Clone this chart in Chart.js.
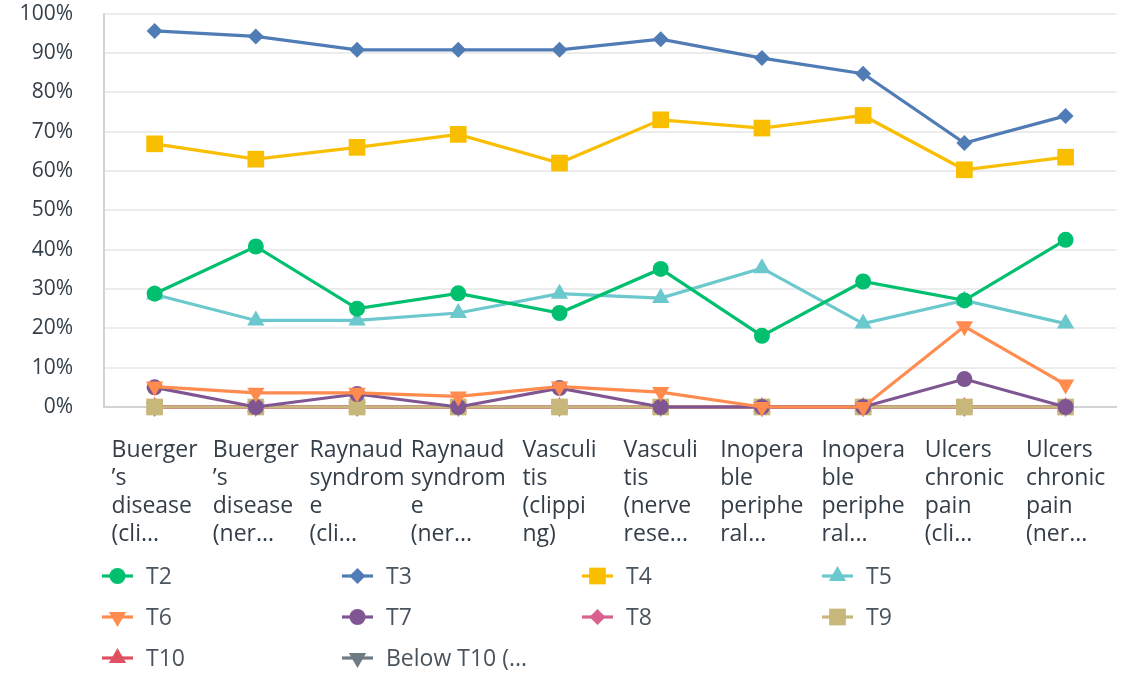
<!DOCTYPE html>
<html>
<head>
<meta charset="utf-8">
<script src="https://cdn.jsdelivr.net/npm/chart.js@4.4.0/dist/chart.umd.min.js"></script>
<style>
  html, body { margin: 0; padding: 0; background: #fff; }
  #wrap { width: 1128px; height: 673px; position: relative; }
</style>
</head>
<body>
<div id="wrap"><canvas id="chart"></canvas></div>
<script>
// categories (already wrapped the way the survey tool cut them)
const categories = [
  ["Buerger", "’s", "disease", "(cli..."],
  ["Buerger", "’s", "disease", "(ner..."],
  ["Raynaud", "syndrom", "e", "(cli..."],
  ["Raynaud", "syndrom", "e", "(ner..."],
  ["Vasculi", "tis", "(clippi", "ng)"],
  ["Vasculi", "tis", "(nerve", "rese..."],
  ["Inopera", "ble", "periphe", "ral..."],
  ["Inopera", "ble", "periphe", "ral..."],
  ["Ulcers", "chronic", "pain", "(cli..."],
  ["Ulcers", "chronic", "pain", "(ner..."]
];

// series values, in percent
const t2 = [28.8, 40.8, 25.0, 28.9, 23.9, 35.1, 18.1, 31.9, 27.1, 42.5];
const t3 = [95.6, 94.2, 90.8, 90.8, 90.8, 93.5, 88.7, 84.7, 67.1, 74.0];
const t4 = [66.9, 63.0, 66.0, 69.3, 62.0, 73.0, 70.9, 74.1, 60.3, 63.5];
const t5 = [28.6, 22.0, 22.0, 23.9, 28.8, 27.7, 35.3, 21.2, 27.1, 21.2];
const t6 = [5.2, 3.6, 3.6, 2.7, 5.2, 3.8, 0, 0, 20.5, 5.7];
const t7 = [5.0, 0, 3.3, 0, 4.8, 0, 0, 0, 7.1, 0];
const t8 = [0, 0, 0, 0, 0, 0, 0, 0, 0, 0];
const t9 = [0, 0, 0, 0, 0, 0, 0, 0, 0, 0];
const t10 = [0, 0, 0, 0, 0, 0, 0, 0, 0, 0];
const belowT10 = [0, 0, 0, 0, 0, 0, 0, 0, 0, 0];

const seriesNames = ["T2", "T3", "T4", "T5", "T6", "T7", "T8", "T9", "T10", "Below T10 (..."];
const seriesData = [t2, t3, t4, t5, t6, t7, t8, t9, t10, belowT10];

// y tick values
const yTicks = [0, 10, 20, 30, 40, 50, 60, 70, 80, 90, 100];

const colors = ['#00bf6f', '#507cb6', '#f9be00', '#6bc8cd', '#ff8b4f', '#7f5691', '#d9608f', '#c8b77a', '#e05060', '#6f7b83'];
const styles = ['circle', 'rectRot', 'rect', 'triangle', 'triangle', 'circle', 'rectRot', 'rect', 'triangle', 'triangle'];
const rotations = [0, 0, 0, 0, 180, 0, 0, 0, 0, 180];
// T8, T10 and Below T10 sit underneath T9 in the picture
const drawOrder = [0, 0, 0, 0, 0, 0, 1, 0, 1, 1];
const radii = { circle: 8, rectRot: 8, rect: 11.8, triangle: 10 };

const textColor = '#333e48';
const fontFamily = '"Open Sans", "Noto Sans", sans-serif';

const datasets = seriesData.map((vals, i) => ({
  label: seriesNames[i],
  data: vals,
  order: drawOrder[i],
  clip: false,
  borderColor: colors[i],
  backgroundColor: colors[i],
  borderWidth: 3.2,
  pointStyle: styles[i],
  pointRotation: rotations[i],
  pointRadius: radii[styles[i]],
  pointHoverRadius: radii[styles[i]],
  pointBorderWidth: 0,
  tension: 0
}));

// x labels: left aligned block centred under each tick
const xLabelPlugin = {
  id: 'xLabels',
  afterDraw(chart) {
    const ctx = chart.ctx;
    const xs = chart.scales.x;
    ctx.save();
    ctx.font = '23px ' + fontFamily;
    ctx.fillStyle = textColor;
    ctx.textAlign = 'left';
    ctx.textBaseline = 'alphabetic';
    categories.forEach((lines, i) => {
      const w = Math.max(...lines.map(l => ctx.measureText(l).width));
      const x0 = xs.getPixelForTick(i) - w / 2;
      lines.forEach((l, k) => ctx.fillText(l, x0, xs.top + 50 + k * 28));
    });
    ctx.restore();
  }
};

// legend in four columns under the labels
const legendPlugin = {
  id: 'gridLegend',
  afterDraw(chart) {
    const ctx = chart.ctx;
    const colX = [102, 342, 582, 822];
    const rowY = [576, 617, 658];
    ctx.save();
    ctx.font = '23px ' + fontFamily;
    ctx.textBaseline = 'middle';
    ctx.textAlign = 'left';
    chart.data.datasets.forEach((ds, i) => {
      const x = colX[i % 4], y = rowY[Math.floor(i / 4)];
      ctx.strokeStyle = ds.borderColor;
      ctx.lineWidth = 3.2;
      ctx.beginPath();
      ctx.moveTo(x, y);
      ctx.lineTo(x + 31, y);
      ctx.stroke();
      ctx.fillStyle = ds.backgroundColor;
      Chart.helpers.drawPoint(ctx, {
        pointStyle: ds.pointStyle,
        rotation: ds.pointRotation,
        radius: ds.pointRadius,
        borderWidth: 0
      }, x + 15.5, y);
      ctx.fillStyle = '#4a545c';
      ctx.fillText(ds.label, x + 44, y + 1);
    });
    ctx.restore();
  }
};

new Chart(document.getElementById('chart'), {
  type: 'line',
  data: { labels: categories, datasets: datasets },
  plugins: [xLabelPlugin, legendPlugin],
  options: {
    responsive: true,
    maintainAspectRatio: false,
    animation: false,
    layout: { padding: { top: 0, left: 0, right: 0, bottom: 0 } },
    plugins: {
      legend: { display: false },
      tooltip: { enabled: false }
    },
    scales: {
      x: {
        offset: true,
        afterFit(s) { s.height = 266; },
        grid: { display: false, drawTicks: false },
        border: { display: true, color: '#d3d3d3', width: 2 },
        ticks: { color: 'rgba(0,0,0,0)', font: { size: 21, family: fontFamily }, maxRotation: 0, autoSkip: false }
      },
      y: {
        min: 0,
        max: 100,
        afterFit(s) { s.width = 104; },
        afterBuildTicks(s) { s.ticks = yTicks.map(v => ({ value: v })); },
        grid: { color: '#ececec', lineWidth: 2, drawTicks: true, tickLength: 30, tickColor: 'rgba(0,0,0,0)' },
        border: { display: true, color: '#d3d3d3', width: 2 },
        ticks: {
          color: textColor,
          padding: 1,
          font: { size: 21, family: fontFamily },
          callback: v => v + '%'
        }
      }
    }
  }
});
</script>
</body>
</html>
